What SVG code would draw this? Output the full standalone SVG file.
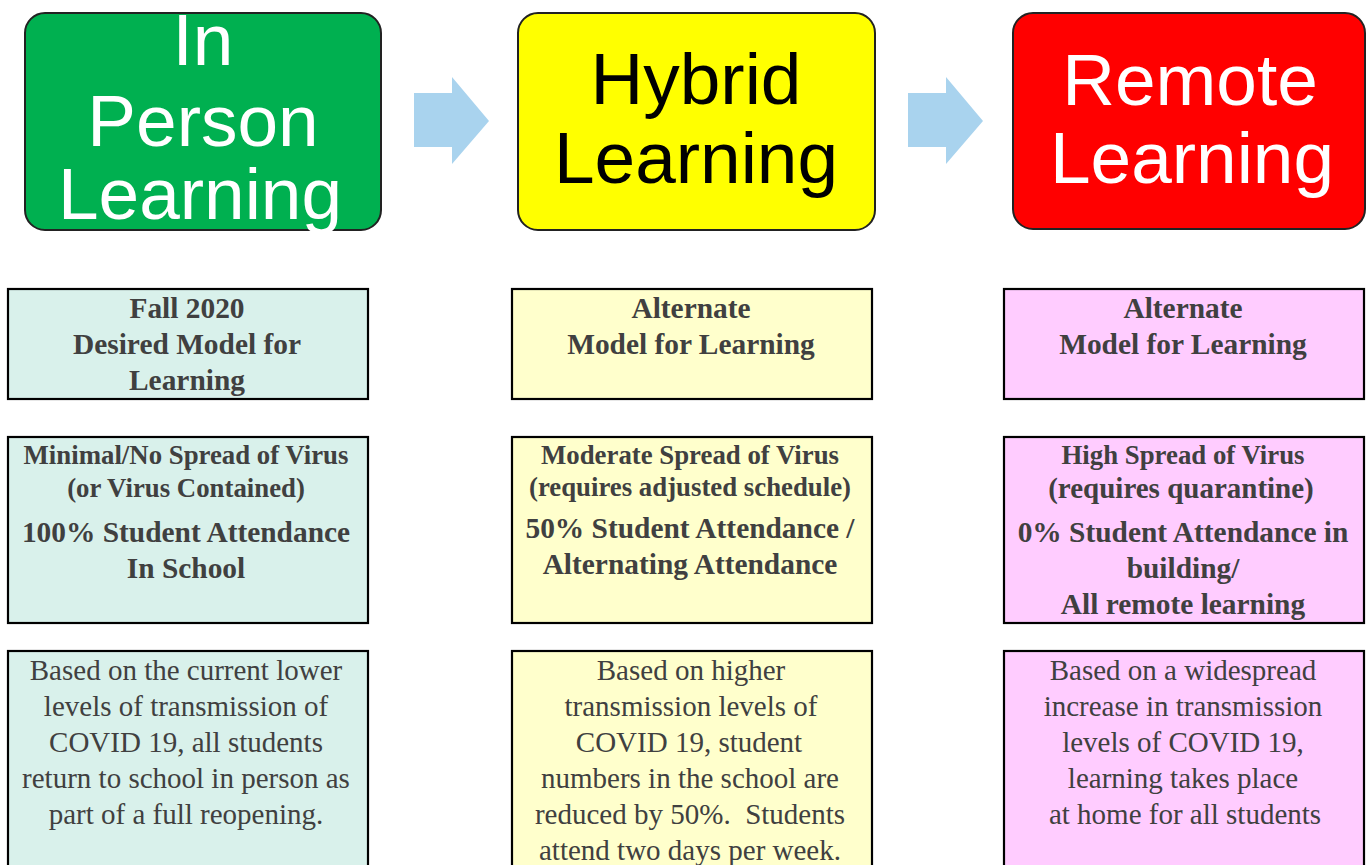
<svg xmlns="http://www.w3.org/2000/svg" width="1367" height="865" viewBox="0 0 1367 865">
<defs>
<style>
.top{stroke:#222;stroke-width:2}
.big{font-family:"Liberation Sans",Arial,sans-serif;font-size:73px;text-anchor:middle}
.box{stroke:#000;stroke-width:2.2}
.teal{fill:#D9F1EB}
.yel{fill:#FFFFCC}
.pink{fill:#FFCCFF}
.hd{font-family:"Liberation Serif","Times New Roman",serif;font-weight:bold;font-size:29.4px;fill:#404040;text-anchor:middle}
.sub{font-family:"Liberation Serif","Times New Roman",serif;font-weight:bold;font-size:26.8px;fill:#404040;text-anchor:middle}
.body{font-family:"Liberation Serif","Times New Roman",serif;font-size:29px;fill:#404040;text-anchor:middle;white-space:pre}
.arr{fill:#A9D3EE}
</style>
</defs>
<rect width="1367" height="865" fill="#fff"/>

<g id="connectors">
<polygon class="arr" points="414,93 452,93 452,77 489,121 452,164 452,147 414,147"/>
<polygon class="arr" points="908,93 946,93 946,77 983,121 946,164 946,147 908,147"/>
</g>

<g id="in-person">
<rect class="top" x="25" y="13" width="356" height="217" rx="20" fill="#00B050"/>
<text class="big" fill="#fff"><tspan x="203" y="65">In</tspan><tspan x="203" y="146">Person</tspan><tspan x="200" y="219">Learning</tspan></text>
</g>

<g id="hybrid">
<rect class="top" x="518" y="13" width="357" height="217" rx="20" fill="#FFFF00"/>
<text class="big" fill="#000"><tspan x="696" y="104">Hybrid</tspan><tspan x="696" y="183">Learning</tspan></text>
</g>

<g id="remote">
<rect class="top" x="1013" y="13" width="352" height="216" rx="20" fill="#FF0000"/>
<text class="big" fill="#fff"><tspan x="1190" y="105">Remote</tspan><tspan x="1192" y="183">Learning</tspan></text>
</g>

<g id="fall-2020">
<rect class="box teal" x="8" y="289" width="360" height="110"/>
<text class="hd"><tspan x="187" y="318">Fall 2020</tspan><tspan x="187" y="354">Desired Model for</tspan><tspan x="187" y="390">Learning</tspan></text>
</g>

<g id="alternate-hybrid">
<rect class="box yel" x="512" y="289" width="360" height="110"/>
<text class="hd"><tspan x="691" y="318">Alternate</tspan><tspan x="691" y="354">Model for Learning</tspan></text>
</g>

<g id="alternate-remote">
<rect class="box pink" x="1004" y="289" width="360" height="110"/>
<text class="hd"><tspan x="1183" y="318">Alternate</tspan><tspan x="1183" y="354">Model for Learning</tspan></text>
</g>

<g id="minimal-spread">
<rect class="box teal" x="8" y="437" width="360" height="186"/>
<text class="sub"><tspan x="186" y="464">Minimal/No Spread of Virus</tspan><tspan x="186" y="497">(or Virus Contained)</tspan></text>
<text class="hd"><tspan x="186" y="542">100% Student Attendance</tspan><tspan x="186" y="578">In School</tspan></text>
</g>

<g id="moderate-spread">
<rect class="box yel" x="512" y="437" width="360" height="186"/>
<text class="sub"><tspan x="690" y="464">Moderate Spread of Virus</tspan><tspan x="690" y="496">(requires adjusted schedule)</tspan></text>
<text class="hd"><tspan x="690" y="538">50% Student Attendance /</tspan><tspan x="690" y="574">Alternating Attendance</tspan></text>
</g>

<g id="high-spread">
<rect class="box pink" x="1004" y="437" width="360" height="186"/>
<text class="sub"><tspan x="1183" y="464">High Spread of Virus</tspan><tspan x="1181" y="498" font-size="29px">(requires quarantine)</tspan></text>
<text class="hd"><tspan x="1183" y="542">0% Student Attendance in</tspan><tspan x="1183" y="578">building/</tspan><tspan x="1183" y="614">All remote learning</tspan></text>
</g>

<g id="in-person-desc">
<rect class="box teal" x="8" y="651" width="360" height="230"/>
<text class="body"><tspan x="186" y="680">Based on the current lower</tspan><tspan x="186" y="716">levels of transmission of</tspan><tspan x="186" y="752">COVID 19, all students</tspan><tspan x="186" y="788">return to school in person as</tspan><tspan x="186" y="824">part of a full reopening.</tspan></text>
</g>

<g id="hybrid-desc">
<rect class="box yel" x="512" y="651" width="360" height="230"/>
<text class="body"><tspan x="691" y="680">Based on higher</tspan><tspan x="691" y="716">transmission levels of</tspan><tspan x="689" y="752">COVID 19, student</tspan><tspan x="690" y="788">numbers in the school are</tspan><tspan x="690" y="824">reduced by 50%.  Students</tspan><tspan x="690" y="860">attend two days per week.</tspan></text>
</g>

<g id="remote-desc">
<rect class="box pink" x="1004" y="651" width="360" height="230"/>
<text class="body"><tspan x="1183" y="680">Based on a widespread</tspan><tspan x="1183" y="716">increase in transmission</tspan><tspan x="1183" y="752">levels of COVID 19,</tspan><tspan x="1183" y="788">learning takes place</tspan><tspan x="1185" y="824">at home for all students</tspan></text>
</g>
</svg>
